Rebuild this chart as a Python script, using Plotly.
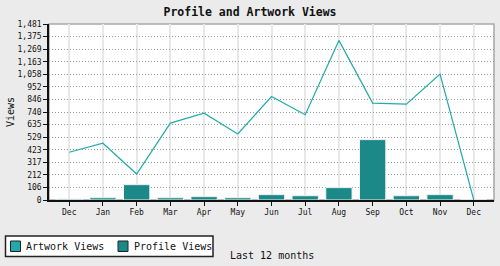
import plotly.graph_objects as go

months = ["Dec", "Jan", "Feb", "Mar", "Apr", "May", "Jun", "Jul", "Aug", "Sep", "Oct", "Nov", "Dec"]
artwork_views = [402, 478, 219, 647, 731, 556, 871, 717, 1343, 815, 807, 1060, 0]
profile_views = [8, 19, 129, 19, 28, 19, 45, 36, 104, 508, 36, 45, 0]
y_ticks = [0, 106, 212, 317, 423, 529, 635, 740, 846, 952, 1058, 1163, 1269, 1375, 1481]
y_tick_labels = ["0", "106", "212", "317", "423", "529", "635", "740", "846", "952",
                 "1,058", "1,163", "1,269", "1,375", "1,481"]
series_names = ["Artwork Views", "Profile Views"]

LINE_C = "#22aaaa"
BAR_C = "#1c8989"
FONT = "DejaVu Sans Mono"

# plot area in pixels
PL, PW, PB, PH = 49, 445, 200, 176


def px(xp):
    return (xp - PL) / PW


def py(yp):
    return (PB - yp) / PH


x = list(range(len(months)))
fig = go.Figure()
fig.add_trace(go.Bar(x=x, y=profile_views, name=series_names[1],
                     marker=dict(color=BAR_C, line=dict(color="#f0f0f0", width=1)),
                     width=0.78, showlegend=False))
fig.add_trace(go.Scatter(x=x, y=artwork_views, mode="lines", name=series_names[0],
                         line=dict(color=LINE_C, width=1.2), showlegend=False))

shapes = [
    dict(type="rect", xref="paper", yref="paper", x0=0, x1=1, y0=0, y1=1,
         line=dict(color="#a8a8a8", width=1.5), layer="below"),
    # legend box
    dict(type="rect", xref="paper", yref="paper", x0=px(5.5), x1=px(213), y0=py(236), y1=py(256.5),
         line=dict(color="#222", width=1.5), fillcolor="white", layer="above"),
    dict(type="rect", xref="paper", yref="paper", x0=px(10.5), x1=px(20.5), y0=py(241), y1=py(251.5),
         line=dict(color="#222", width=1), fillcolor=LINE_C, layer="above"),
    dict(type="rect", xref="paper", yref="paper", x0=px(118), x1=px(128), y0=py(241), y1=py(251.5),
         line=dict(color="#222", width=1), fillcolor=BAR_C, layer="above"),
]

fig.update_layout(
    width=500, height=266,
    margin=dict(l=PL, r=500 - PL - PW, t=PB - PH, b=266 - PB, autoexpand=False),
    paper_bgcolor="#ebebeb", plot_bgcolor="white",
    showlegend=False,
    font=dict(family=FONT, size=8, color="#111"),
    title=dict(text="<b>Profile and Artwork Views</b>", x=0.5, xref="container", xanchor="center",
               y=1 - 12 / 266, yref="container", yanchor="middle", font=dict(size=11.5, family=FONT)),
    xaxis=dict(range=[-0.6, 12.6], tickvals=x, ticktext=months, showgrid=True, gridcolor="#e8e8e8",
               gridwidth=2, ticks="outside", ticklen=4, tickcolor="#111", showline=True,
               linecolor="#111", linewidth=1.5, zeroline=False, tickfont=dict(size=8), automargin=False),
    yaxis=dict(range=[0, 1481], tickvals=y_ticks, ticktext=y_tick_labels, showgrid=True,
               gridcolor="#999", griddash="1px,2px", gridwidth=1, ticks="outside", ticklen=4,
               tickcolor="#111", showline=True, linecolor="#111", linewidth=1.5, zeroline=False,
               tickfont=dict(size=8), automargin=False),
    shapes=shapes,
    annotations=[
        dict(text="Last 12 months", xref="paper", yref="paper", x=0.5, y=py(255),
             xanchor="center", yanchor="middle", showarrow=False, font=dict(size=10, family=FONT)),
        dict(text="Views", xref="paper", yref="paper", x=px(10), y=0.5, textangle=-90,
             xanchor="center", yanchor="middle", showarrow=False, font=dict(size=10, family=FONT)),
        dict(text=series_names[0], xref="paper", yref="paper", x=px(24), y=py(246.5),
             xanchor="left", yanchor="middle", showarrow=False, font=dict(size=10, family=FONT)),
        dict(text=series_names[1], xref="paper", yref="paper", x=px(132), y=py(246.5),
             xanchor="left", yanchor="middle", showarrow=False, font=dict(size=10, family=FONT)),
    ],
)
fig.write_html("out.html")
